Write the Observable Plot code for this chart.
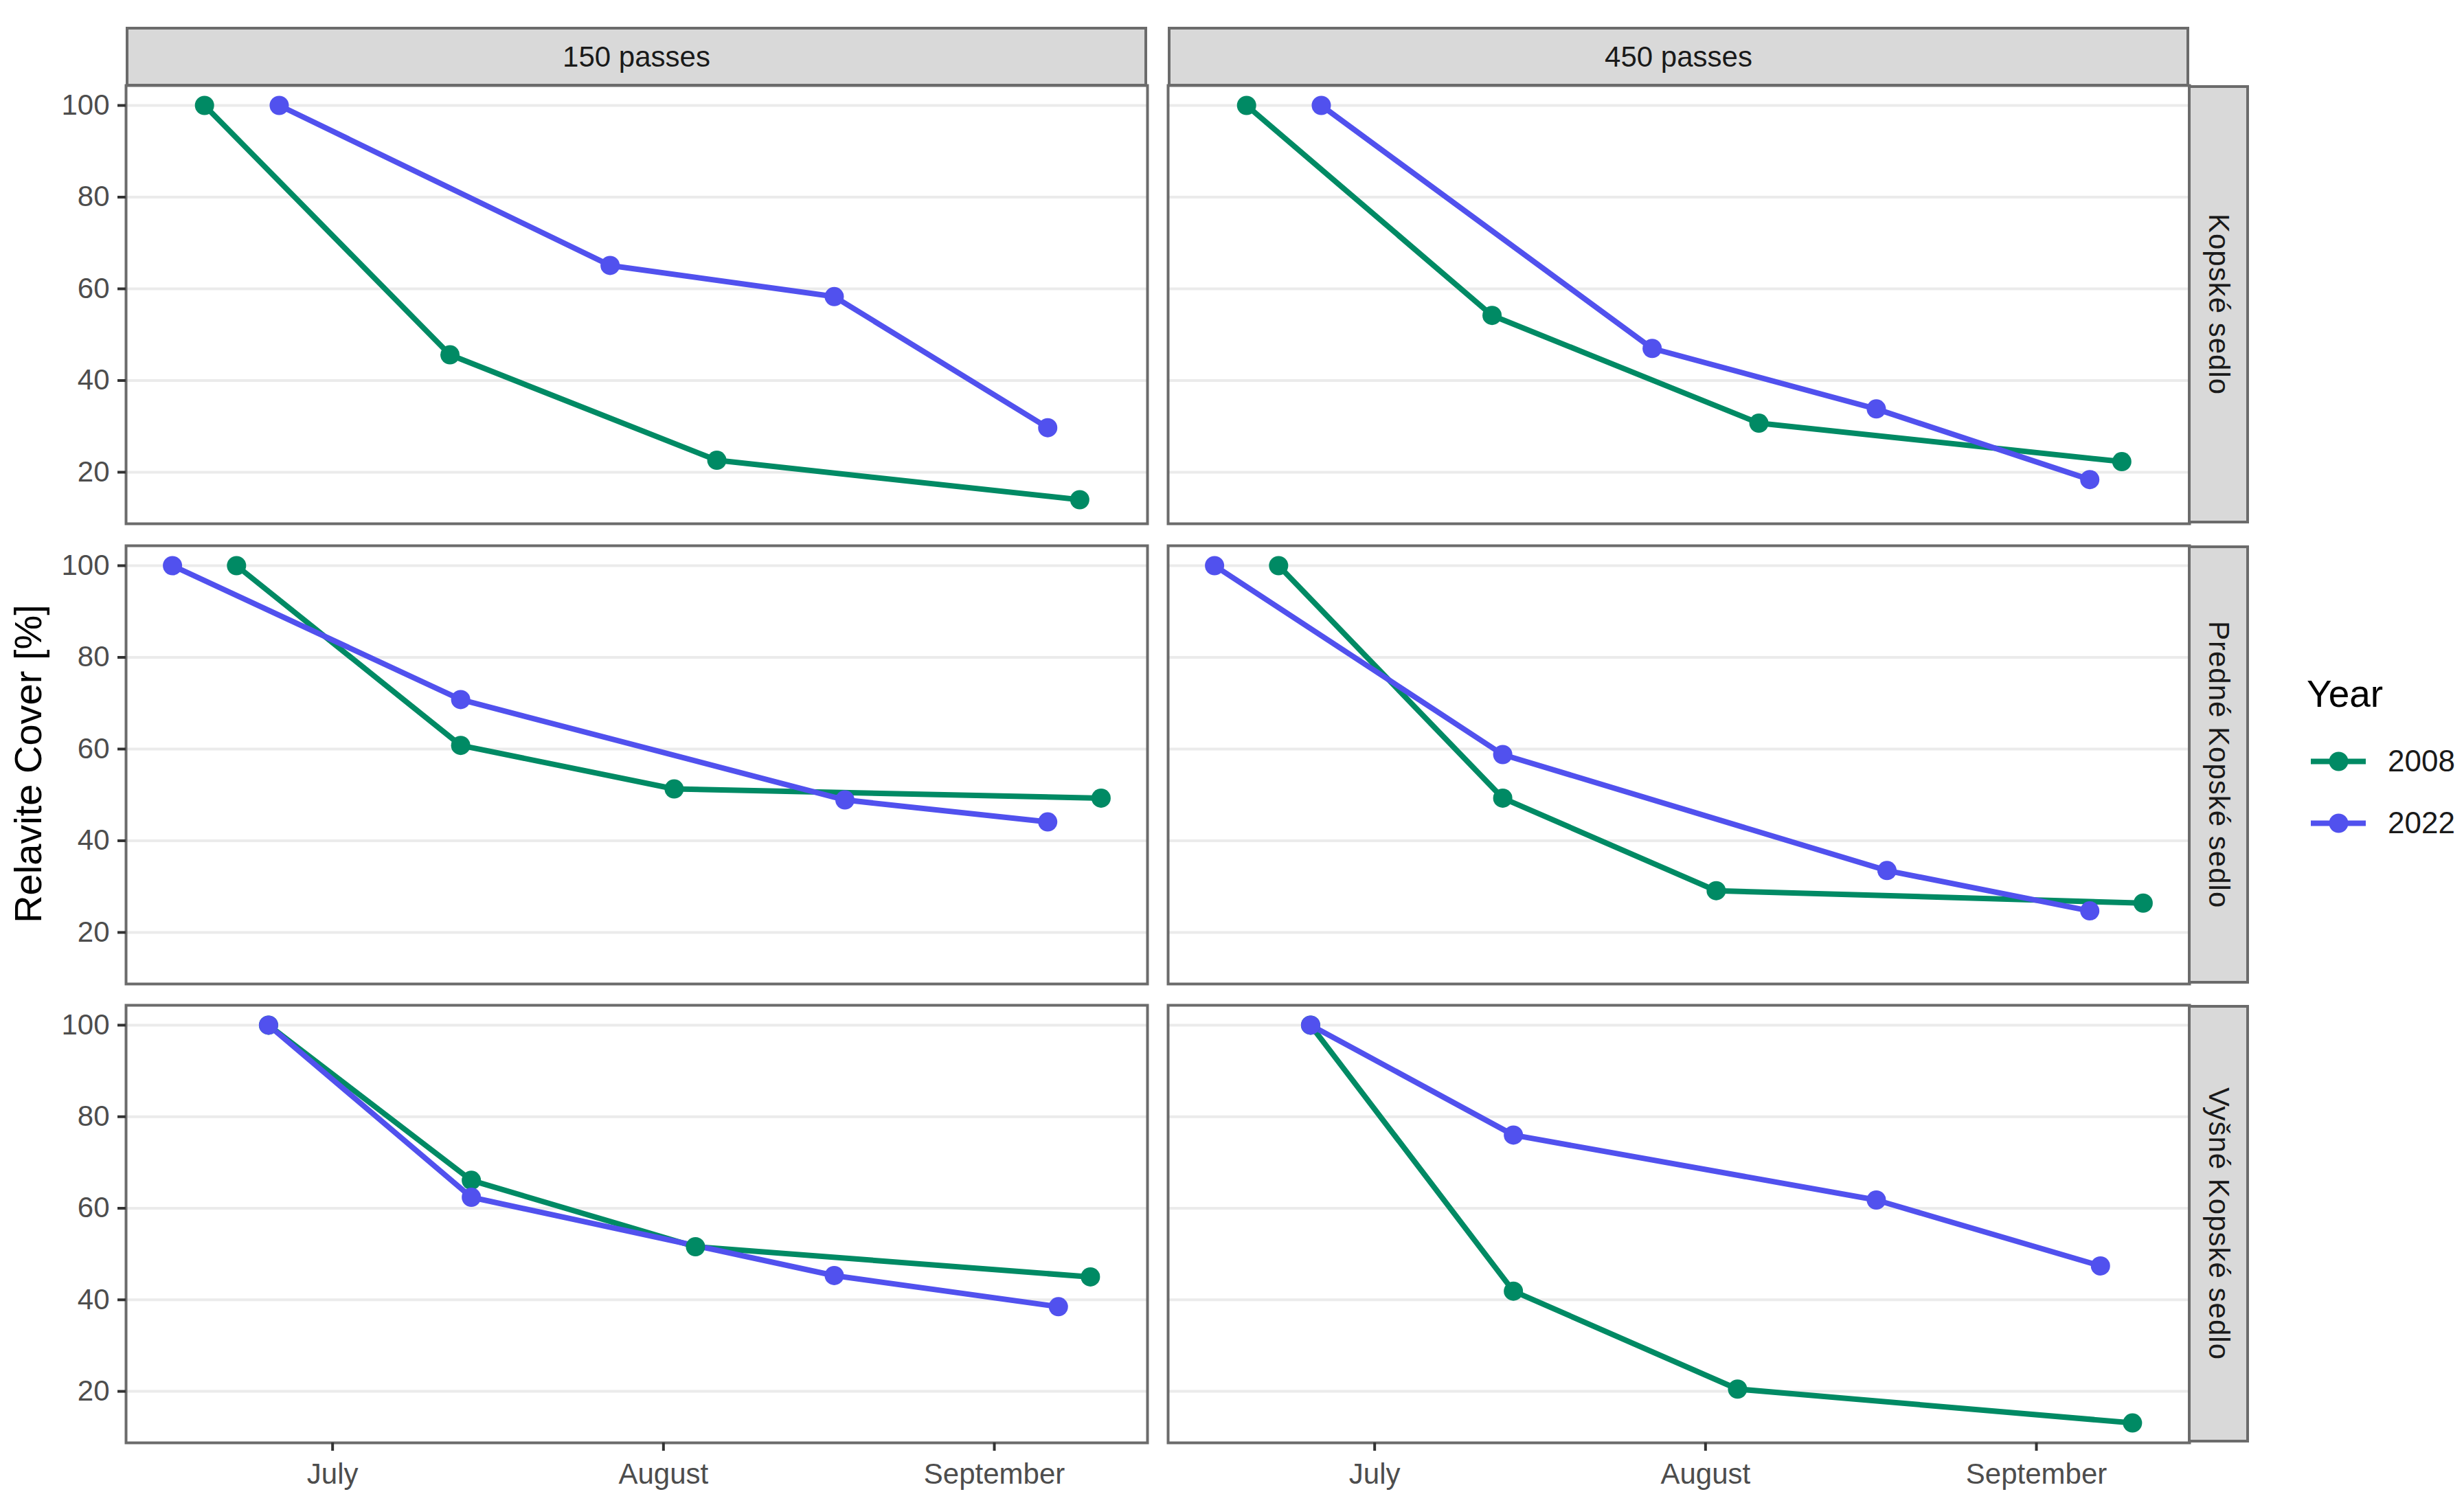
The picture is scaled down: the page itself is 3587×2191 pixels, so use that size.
<!DOCTYPE html>
<html><head><meta charset="utf-8">
<script src="https://cdn.jsdelivr.net/npm/d3@7"></script>
<script src="https://cdn.jsdelivr.net/npm/@observablehq/plot@0.6"></script>
<style>
body{margin:0;background:#fff;}
#root{position:relative;width:3587px;height:2191px;font-family:"Liberation Sans",Arial,sans-serif;overflow:hidden;background:#fff;}
.strip{position:absolute;box-sizing:border-box;background:#D9D9D9;border:4px solid #6b6b6b;color:#1A1A1A;font-size:42px;display:flex;align-items:center;justify-content:center;}
.strip.v span{writing-mode:vertical-rl;letter-spacing:1px;}
.txt{position:absolute;white-space:nowrap;}
</style></head><body><div id="root"></div>
<script>
// ---------- data ----------
const sites = ["Kopské sedlo", "Predné Kopské sedlo", "Vyšné Kopské sedlo"];
const passes = ["150 passes", "450 passes"];
const years = ["2008", "2022"];
const yearColors = ["#008a64", "#5151ee"];

// sampling dates (shared by both passes panels of a site)
const datesKopske2008 = ["2022-06-19", "2022-07-12", "2022-08-06", "2022-09-09"];
const datesKopske2022 = ["2022-06-26", "2022-07-27", "2022-08-17", "2022-09-06"];
const datesPredne2008 = ["2022-06-22", "2022-07-13", "2022-08-02", "2022-09-11"];
const datesPredne2022 = ["2022-06-16", "2022-07-13", "2022-08-18", "2022-09-06"];
const datesVysne2008  = ["2022-06-25", "2022-07-14", "2022-08-04", "2022-09-10"];
const datesVysne2022  = ["2022-06-25", "2022-07-14", "2022-08-17", "2022-09-07"];

// relative cover [%]
const kopske150_2008 = [100, 45.6, 22.6, 14.0];
const kopske150_2022 = [100, 65.1, 58.3, 29.7];
const kopske450_2008 = [100, 54.2, 30.7, 22.3];
const kopske450_2022 = [100, 47.0, 33.8, 18.4];
const predne150_2008 = [100, 60.8, 51.3, 49.3];
const predne150_2022 = [100, 70.8, 48.9, 44.1];
const predne450_2008 = [100, 49.3, 29.1, 26.4];
const predne450_2022 = [100, 58.8, 33.5, 24.7];
const vysne150_2008  = [100, 66.1, 51.6, 45.0];
const vysne150_2022  = [100, 62.4, 45.3, 38.5];
const vysne450_2008  = [100, 41.9, 20.5, 13.1];
const vysne450_2022  = [100, 76.0, 61.8, 47.4];

const yTicks = [20, 40, 60, 80, 100];
const xTickDates = ["2022-07-01", "2022-08-01", "2022-09-01"];

// ---------- build table ----------
const series = [
  [0, 0, "2008", datesKopske2008, kopske150_2008],
  [0, 0, "2022", datesKopske2022, kopske150_2022],
  [0, 1, "2008", datesKopske2008, kopske450_2008],
  [0, 1, "2022", datesKopske2022, kopske450_2022],
  [1, 0, "2008", datesPredne2008, predne150_2008],
  [1, 0, "2022", datesPredne2022, predne150_2022],
  [1, 1, "2008", datesPredne2008, predne450_2008],
  [1, 1, "2022", datesPredne2022, predne450_2022],
  [2, 0, "2008", datesVysne2008, vysne150_2008],
  [2, 0, "2022", datesVysne2022, vysne150_2022],
  [2, 1, "2008", datesVysne2008, vysne450_2008],
  [2, 1, "2022", datesVysne2022, vysne450_2022]
];
const rows = [];
for (const [s, p, yr, ds, vs] of series) {
  ds.forEach((d, i) => rows.push({site: sites[s], passes: passes[p], year: yr, date: new Date(d + "T00:00:00Z"), value: vs[i]}));
}

// ggplot-like 5% expansion
function expand([a, b]) { const e = (b - a) * 0.05; return [a - e, b + e]; }
const xExt = d3.extent(rows, d => +d.date);
const xDomain = expand(xExt).map(t => new Date(t));
const yDomain = expand(d3.extent(rows, d => d.value));

// ---------- layout ----------
const root = document.getElementById("root");
const colX = [[183, 1670], [1700, 3187]];
const rowY = [[124, 762], [794, 1432], [1463, 2100]];
const FONT = '"Liberation Sans", Arial, sans-serif';

function panel(c, r) {
  const [x0, x1] = colX[c], [y0, y1] = rowY[r];
  const mL = c === 0 ? 183 : 6, mR = 6, mT = 6, mB = r === 2 ? 95 : 6;
  const W = (x1 - x0) + mL + mR, H = (y1 - y0) + mT + mB;
  const data = rows.filter(d => d.site === sites[r] && d.passes === passes[c]);
  const marks = [
    Plot.gridY(yTicks, {stroke: "#EBEBEB", strokeOpacity: 1, strokeWidth: 4}),
    Plot.line(data, {x: "date", y: "value", stroke: "year", z: "year", strokeWidth: 8}),
    Plot.dot(data, {x: "date", y: "value", fill: "year", r: 14}),
    Plot.frame({stroke: "#6b6b6b", strokeWidth: 4})
  ];
  if (c === 0) marks.push(Plot.axisY(yTicks, {anchor: "left", tickSize: 12, tickPadding: 12, fontSize: 42, stroke: "#333333", fill: "#4D4D4D", strokeWidth: 4, label: null}));
  if (r === 2) marks.push(Plot.axisX(xTickDates.map(d => new Date(d + "T00:00:00Z")), {anchor: "bottom", tickSize: 12, tickPadding: 18, fontSize: 42, stroke: "#333333", fill: "#4D4D4D", strokeWidth: 4, tickFormat: d3.utcFormat("%B"), label: null}));
  const svg = Plot.plot({
    width: W, height: H,
    marginLeft: mL, marginRight: mR, marginTop: mT, marginBottom: mB,
    x: {type: "utc", domain: xDomain, axis: null},
    y: {domain: yDomain, axis: null},
    color: {domain: years, range: yearColors},
    style: {fontFamily: FONT, fontSize: "42px", background: "transparent", overflow: "visible"},
    marks
  });
  svg.style.position = "absolute";
  svg.style.left = (x0 - mL) + "px";
  svg.style.top = (y0 - mT) + "px";
  root.appendChild(svg);
}
for (let r = 0; r < 3; r++) for (let c = 0; c < 2; c++) panel(c, r);

// strips
passes.forEach((p, c) => {
  const d = document.createElement("div");
  d.className = "strip";
  Object.assign(d.style, {left: colX[c][0] + "px", top: "39px", width: (colX[c][1] - colX[c][0]) + "px", height: "87px"});
  d.textContent = p;
  root.appendChild(d);
});
sites.forEach((s, r) => {
  const d = document.createElement("div");
  d.className = "strip v";
  Object.assign(d.style, {left: "3185px", top: rowY[r][0] + "px", width: "89px", height: (rowY[r][1] - rowY[r][0]) + "px"});
  const sp = document.createElement("span");
  sp.textContent = s;
  d.appendChild(sp);
  root.appendChild(d);
});

// y axis title
const yt = document.createElement("div");
yt.className = "txt";
yt.textContent = "Relavite Cover [%]";
Object.assign(yt.style, {left: "40px", top: "1112px", fontSize: "56px", color: "#000", transform: "translate(-50%,-50%) rotate(-90deg)"});
root.appendChild(yt);

// legend
const lt = document.createElement("div");
lt.className = "txt";
lt.textContent = "Year";
Object.assign(lt.style, {left: "3358px", top: "1010px", fontSize: "55px", color: "#000", transform: "translateY(-50%)"});
root.appendChild(lt);
years.forEach((y, i) => {
  const cy = 1108 + i * 90;
  const key = Plot.plot({
    width: 80, height: 40, margin: 0,
    x: {domain: [0, 1], axis: null}, y: {domain: [0, 1], axis: null},
    color: {domain: years, range: yearColors},
    style: {background: "transparent"},
    marks: [
      Plot.ruleY([{v: 0.5, year: y}], {y: "v", stroke: "year", strokeWidth: 8}),
      Plot.dot([{x: 0.5, y: 0.5, year: y}], {x: "x", y: "y", fill: "year", r: 14})
    ]
  });
  key.style.position = "absolute";
  key.style.left = "3364px";
  key.style.top = (cy - 20) + "px";
  root.appendChild(key);
  const t = document.createElement("div");
  t.className = "txt";
  t.textContent = y;
  Object.assign(t.style, {left: "3476px", top: cy + "px", fontSize: "44px", color: "#1A1A1A", transform: "translateY(-50%)"});
  root.appendChild(t);
});
</script></body></html>
